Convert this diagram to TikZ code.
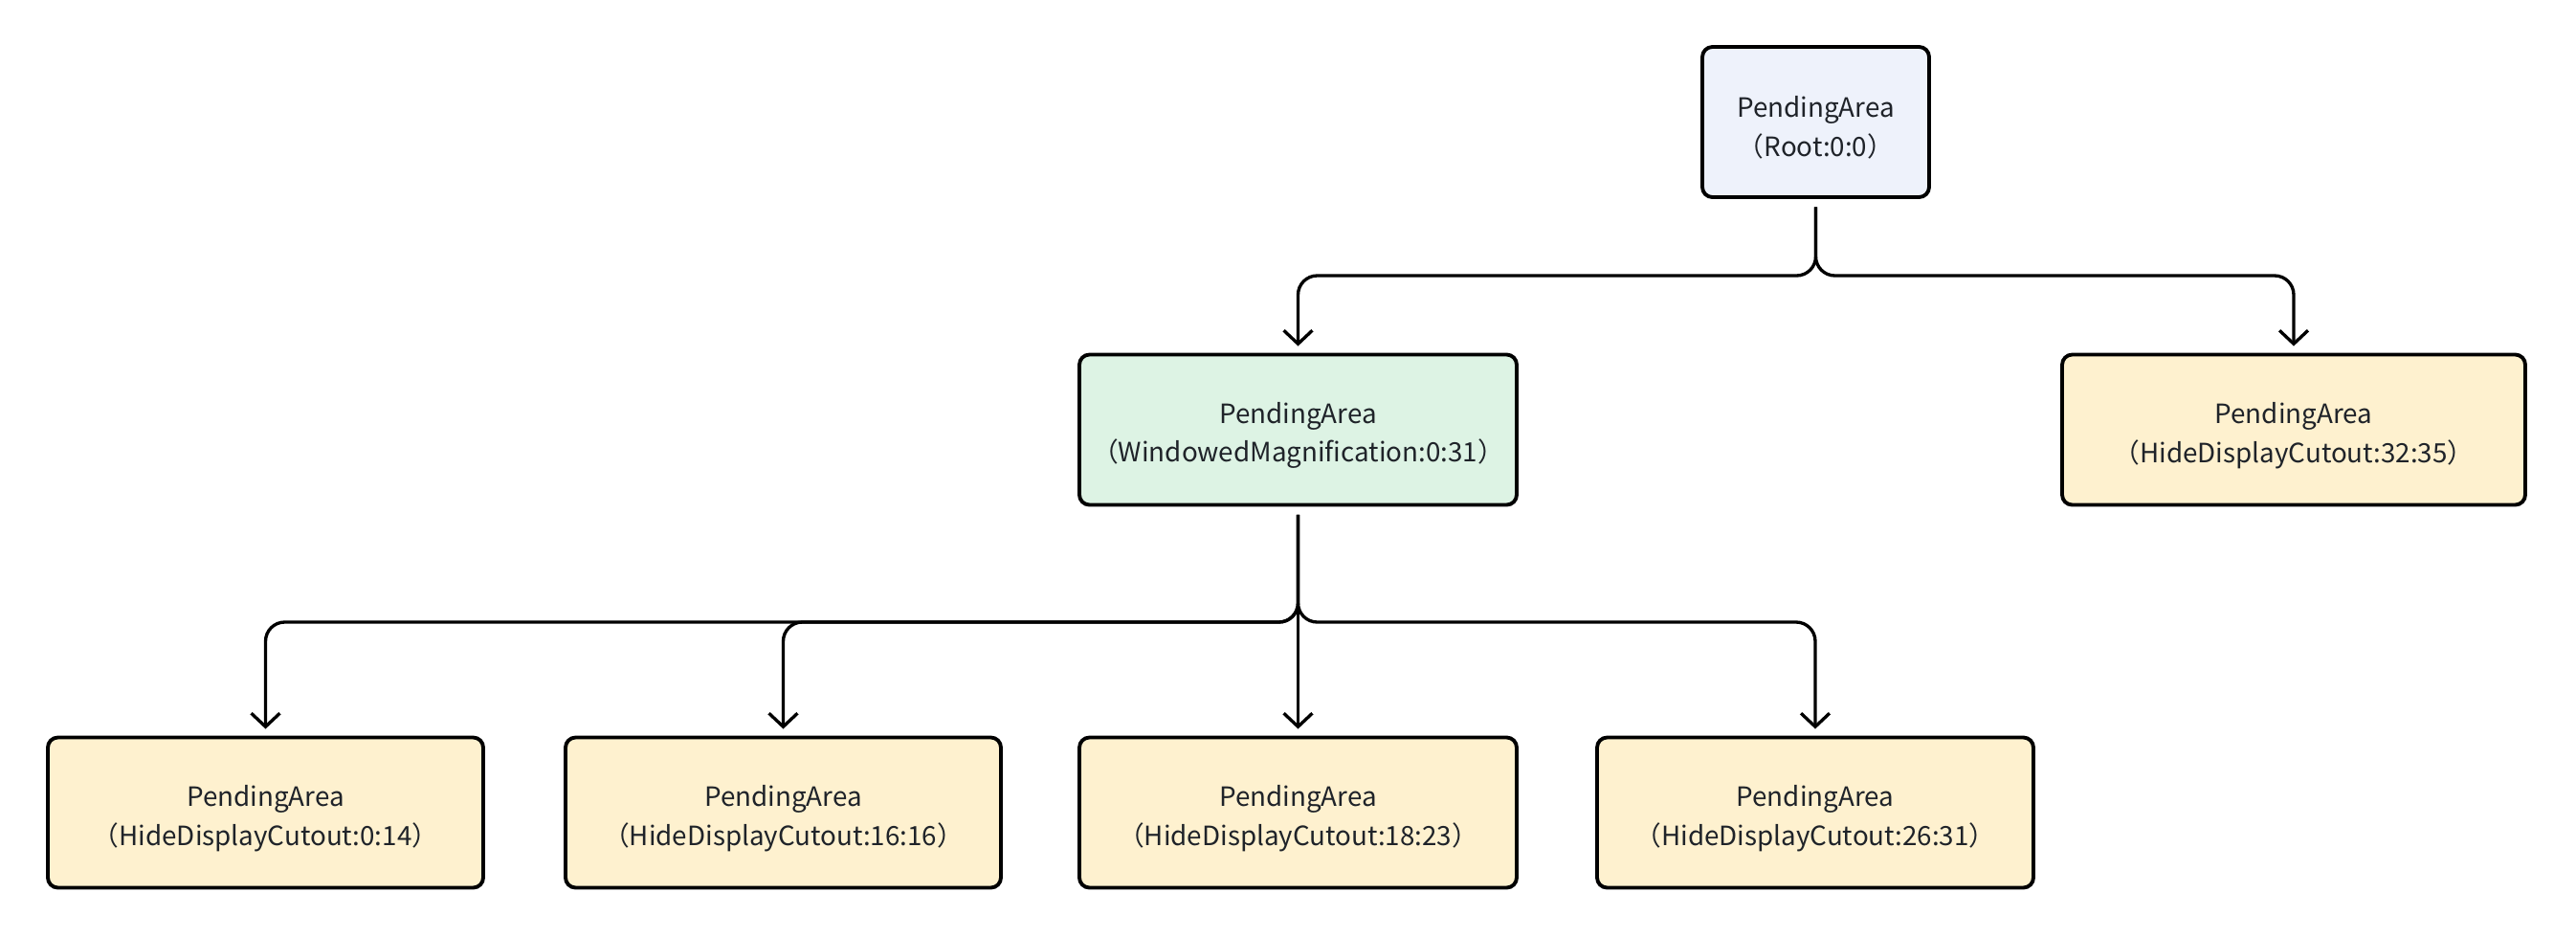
\documentclass[tikz,border=0pt]{standalone}
\usepackage{fontspec}
\setmainfont{Noto Sans CJK SC}
\usetikzlibrary{arrows.meta}
\definecolor{rootfill}{HTML}{EEF2FB}
\definecolor{winfill}{HTML}{DDF3E4}
\definecolor{cutfill}{HTML}{FEF1CF}
\definecolor{txt}{HTML}{1F2329}
\tikzset{
	area/.style={draw=black,line width=1.1pt,rounded corners=3pt,inner sep=0pt,
		minimum height=1.57cm,align=center,text=txt,font=\fontsize{7.9}{11.6}\selectfont},
	link/.style={line width=0.95pt,rounded corners=0.2cm,
		-{Straight Barb[length=4pt,width=8.5pt,line width=0.95pt]},
		shorten <=0.085cm,shorten >=0.07cm}
}
\newcommand{\twolines}[2]{\rule{0pt}{9.6pt}#1\\#2}
\begin{document}
\begin{tikzpicture}
	\useasboundingbox[fill=white] (0,0) rectangle (26.92,-9.78);
	\node[area,fill=rootfill,minimum width=2.37cm] (root) at (18.975,-1.275) {\twolines{PendingArea}{（Root:0:0）}};
	\node[area,fill=winfill,minimum width=4.57cm] (win) at (13.565,-4.49) {\twolines{PendingArea}{（WindowedMagnification:0:31）}};
	\node[area,fill=cutfill,minimum width=4.84cm] (cutA) at (23.97,-4.49) {\twolines{PendingArea}{（HideDisplayCutout:32:35）}};
	\node[area,fill=cutfill,minimum width=4.55cm] (cutB) at (2.775,-8.49) {\twolines{PendingArea}{（HideDisplayCutout:0:14）}};
	\node[area,fill=cutfill,minimum width=4.55cm] (cutC) at (8.185,-8.49) {\twolines{PendingArea}{（HideDisplayCutout:16:16）}};
	\node[area,fill=cutfill,minimum width=4.57cm] (cutD) at (13.565,-8.49) {\twolines{PendingArea}{（HideDisplayCutout:18:23）}};
	\node[area,fill=cutfill,minimum width=4.56cm] (cutE) at (18.97,-8.49) {\twolines{PendingArea}{（HideDisplayCutout:26:31）}};
	\coordinate (bus1) at (0,-2.88);
	\coordinate (bus2) at (0,-6.50);
	\draw[link] (root.south) -- (root.south |- bus1) -| (win.north);
	\draw[link] (root.south) -- (root.south |- bus1) -| (cutA.north);
	\draw[link] (win.south) -- (win.south |- bus2) -| (cutB.north);
	\draw[link] (win.south) -- (win.south |- bus2) -| (cutC.north);
	\draw[link] (win.south) -- (cutD.north);
	\draw[link] (win.south) -- (win.south |- bus2) -| (cutE.north);
\end{tikzpicture}
\end{document}
